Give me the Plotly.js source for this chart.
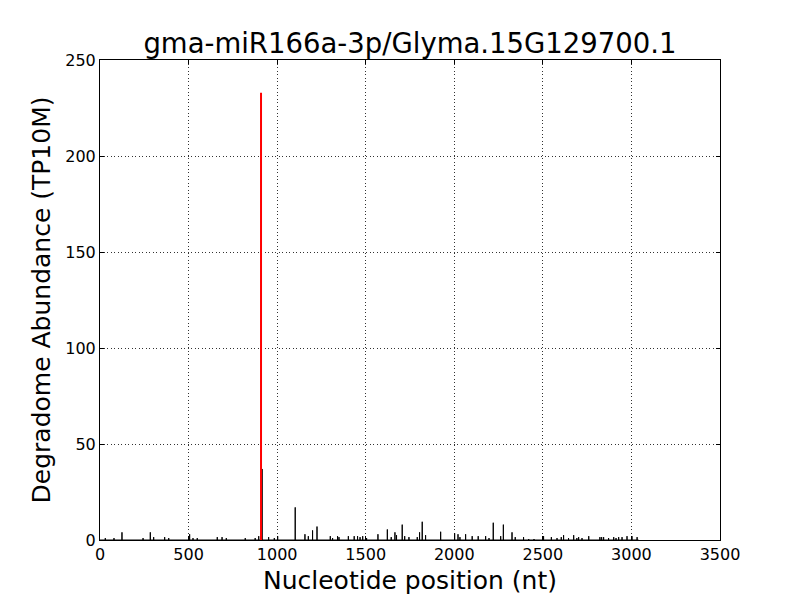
<!DOCTYPE html>
<html>
<head>
<meta charset="utf-8">
<script src="https://cdn.plot.ly/plotly-3.0.1.min.js"></script>
<style>html,body{margin:0;padding:0;background:#fff;}#chart{width:800px;height:600px;}</style>
</head>
<body>
<div id="chart"></div>
<script>
// Degradome profile (position in nt, abundance in TP10M)
const positions = [30, 79, 124, 243, 284, 303, 365, 388, 506, 525, 549, 662, 689, 713,
  820, 876, 896, 915, 952, 984, 1003, 1102, 1157, 1176, 1200, 1225, 1300, 1313, 1341, 1349,
  1402, 1435, 1454, 1468, 1483, 1505, 1569, 1622, 1644, 1665, 1674, 1706, 1720, 1744, 1791,
  1804, 1819, 1838, 1923, 2002, 2021, 2032, 2064, 2101, 2135, 2177, 2196, 2220, 2262, 2277,
  2326, 2344, 2391, 2420, 2450, 2504, 2548, 2580, 2604, 2617, 2645, 2674, 2692, 2702, 2721,
  2759, 2822, 2832, 2843, 2871, 2900, 2913, 2928, 2947, 2975, 3003, 3032];
const abundance = [1, 1, 4, 1, 4, 1.5, 1.5, 1, 3, 1, 1, 1.5, 1.5, 1,
  1, 1, 2, 37, 1.5, 1, 2, 17, 3, 2, 5, 7, 2, 1, 2, 1.5,
  2, 2, 2, 1.5, 2, 1, 3, 5.5, 1.5, 4, 2.5, 8, 2, 1.5, 1.5,
  4, 9.5, 2.5, 4.3, 3.5, 3, 1.5, 3, 2, 2, 2, 1, 9, 2, 8,
  4, 1.5, 1.5, 0.5, 0.5, 2, 1.5, 1, 1.5, 2.5, 1, 2.5, 1, 1.5, 1,
  2, 1.5, 1.5, 1.5, 1, 1.5, 1, 1.5, 1.5, 2, 2, 1.5];
const sitePosition = [909];
const siteAbundance = [233];
const profileEnd = 3040;

const xTicks = [0, 500, 1000, 1500, 2000, 2500, 3000, 3500];
const yTicks = [0, 50, 100, 150, 200, 250];

// Build line segments from the data
const lx = [0], ly = [0];
positions.forEach((p, i) => { lx.push(p, p, p); ly.push(0, abundance[i], 0); });
lx.push(profileEnd); ly.push(0);

const sx = [], sy = [];
sitePosition.forEach((p, i) => { sx.push(p, p, null); sy.push(0, siteAbundance[i], null); });

const traces = [
  {x: lx, y: ly, type: 'scatter', mode: 'lines', line: {color: '#000', width: 1}, hoverinfo: 'skip'},
  {x: sx, y: sy, type: 'scatter', mode: 'lines', line: {color: '#ff0000', width: 2}, hoverinfo: 'skip'}
];

const font = {family: 'DejaVu Sans', color: '#000'};
const axisCommon = {
  showline: true, linecolor: '#000', linewidth: 1, mirror: 'ticks',
  ticks: 'inside', ticklen: 4, tickcolor: '#000', tickwidth: 1,
  showgrid: true, gridcolor: '#000', gridwidth: 0.8, griddash: '1px,2.5px',
  zeroline: false, tickfont: {family: 'DejaVu Sans', size: 16, color: '#000'}
};

const layout = {
  width: 800, height: 600,
  margin: {l: 100, r: 80, t: 60, b: 60},
  paper_bgcolor: '#fff', plot_bgcolor: '#fff',
  showlegend: false,
  font: font,
  title: {text: 'gma-miR166a-3p/Glyma.15G129700.1', font: {family: 'DejaVu Sans', size: 27.5, color: '#000'},
    x: 0.5125, xanchor: 'center', y: 0.928, yanchor: 'middle', yref: 'container'},
  xaxis: Object.assign({}, axisCommon, {
    range: [0, 3500], tickvals: xTicks, ticktext: xTicks.map(String),
    title: {text: 'Nucleotide position (nt)', font: {family: 'DejaVu Sans', size: 25, color: '#000'}, standoff: 8}
  }),
  yaxis: Object.assign({}, axisCommon, {
    range: [0, 250], tickvals: yTicks, ticktext: yTicks.map(String),
    title: {text: 'Degradome Abundance (TP10M)', font: {family: 'DejaVu Sans', size: 25, color: '#000'}, standoff: 7}
  })
};

Plotly.newPlot('chart', traces, layout, {staticPlot: true, displayModeBar: false});
</script>
</body>
</html>
